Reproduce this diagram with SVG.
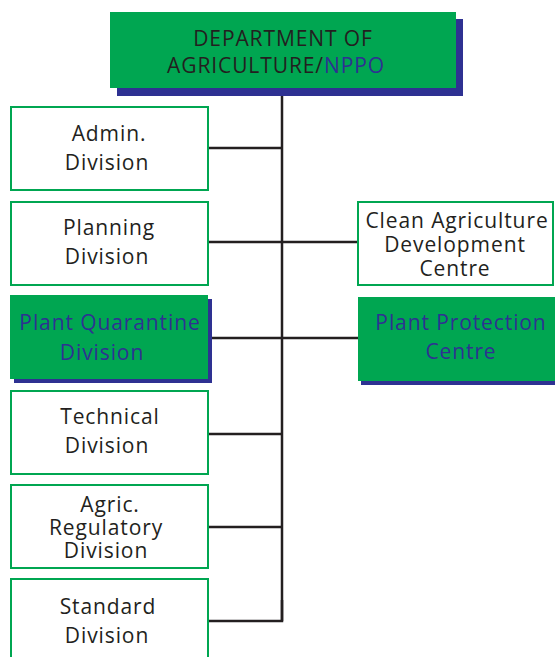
<svg xmlns="http://www.w3.org/2000/svg" width="555" height="657" viewBox="0 0 555 657">
<style>
.box{fill:#fff;stroke:#00a651;stroke-width:2}
.gbox{fill:#00a651}
.shadow{fill:#2e3192}
.t{font-family:"Open Sans","DejaVu Sans",sans-serif;font-size:21px;fill:#231f20;text-anchor:middle;letter-spacing:0.9px}
.b{fill:#2e3192}
.line{stroke:#231f20;stroke-width:2.5;fill:none}
</style>
<g id="connectors">
<line class="line" x1="282" y1="88" x2="282" y2="621"/>
<line class="line" x1="208" y1="148" x2="282" y2="148"/>
<line class="line" x1="208" y1="242" x2="358" y2="242"/>
<line class="line" x1="208" y1="338" x2="358" y2="338"/>
<line class="line" x1="208" y1="434" x2="282" y2="434"/>
<line class="line" x1="208" y1="527" x2="282" y2="527"/>
<polyline class="line" points="208,621 282,621 282,600"/>
</g>
<g id="dept">
<rect class="shadow" x="117" y="19" width="346" height="77"/>
<rect class="gbox" x="110" y="12" width="346" height="76"/>
<text class="t" x="283" y="46">DEPARTMENT OF</text>
<text class="t" x="276" y="73">AGRICULTURE/<tspan class="b">NPPO</tspan></text>
</g>
<g id="admin">
<rect class="box" x="11" y="107" width="197" height="83"/>
<text class="t" x="109" y="141">Admin.</text>
<text class="t" x="107" y="170">Division</text>
</g>
<g id="planning">
<rect class="box" x="11" y="202" width="197" height="83"/>
<text class="t" x="109" y="235">Planning</text>
<text class="t" x="107" y="264">Division</text>
</g>
<g id="quarantine">
<rect class="shadow" x="14" y="299" width="198" height="84"/>
<rect class="gbox" x="10" y="295" width="198" height="84"/>
<text class="t b" x="110" y="330">Plant Quarantine</text>
<text class="t b" x="102" y="360">Division</text>
</g>
<g id="technical">
<rect class="box" x="11" y="391" width="197" height="83"/>
<text class="t" x="110" y="424">Technical</text>
<text class="t" x="107" y="453">Division</text>
</g>
<g id="agric">
<rect class="box" x="11" y="485" width="197" height="83"/>
<text class="t" x="110" y="512">Agric.</text>
<text class="t" x="106" y="535">Regulatory</text>
<text class="t" x="106" y="558">Division</text>
</g>
<g id="standard">
<rect class="box" x="11" y="579" width="197" height="82"/>
<text class="t" x="108" y="614">Standard</text>
<text class="t" x="107" y="643">Division</text>
</g>
<g id="clean">
<rect class="box" x="358" y="202" width="195" height="83"/>
<text class="t" x="457" y="228">Clean Agriculture</text>
<text class="t" x="455" y="252">Development</text>
<text class="t" x="455" y="276">Centre</text>
</g>
<g id="protection">
<rect class="shadow" x="361" y="301" width="196" height="84"/>
<rect class="gbox" x="358" y="297" width="197" height="84"/>
<text class="t b" x="461" y="330">Plant Protection</text>
<text class="t b" x="461" y="359">Centre</text>
</g>
</svg>
